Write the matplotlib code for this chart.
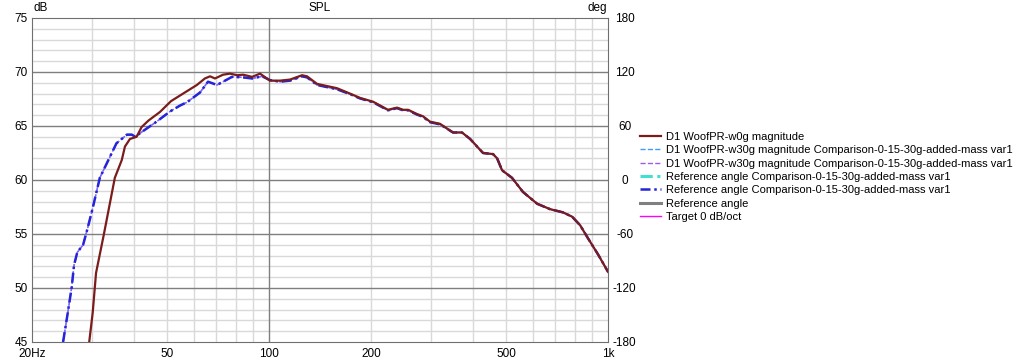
"""
SPL 频响对比图 (REW 风格)
左轴 dB, 右轴 deg, x 轴对数频率 20Hz - 1k
"""

import matplotlib
matplotlib.use('Agg')  # 非交互式后端
import matplotlib.pyplot as plt
from matplotlib.ticker import FixedLocator, NullFormatter


plt.rcParams['font.family'] = ['Liberation Sans', 'DejaVu Sans']
plt.rcParams['axes.unicode_minus'] = False

# D1 WoofPR-w0g magnitude (棕色实线)
freq_w0g = [29.5, 30.2, 30.9, 32.6, 35.1, 36.8, 37.6, 38.9, 40.7, 42.1, 44.1, 47.7,
            51.4, 55.8, 61.3, 64.7, 67.0, 69.3, 73.2, 76.8, 80.5, 83.9, 89.2, 94.1,
            100.7, 107.8, 115.4, 125.2, 129.5, 138.6, 148.3, 158.7, 173.4, 185.6,
            202.8, 224.4, 238.6, 248.6, 257.3, 273.5, 284.6, 298.6, 319.6, 349, 371,
            392, 428, 458, 471, 487, 521, 561, 618, 675, 737, 784, 828, 873, 935, 1000]
spl_w0g = [45.0, 47.7, 51.4, 55.0, 60.2, 61.85, 63.1, 63.8, 64.0, 64.9, 65.5, 66.3,
           67.3, 68.0, 68.8, 69.4, 69.6, 69.4, 69.75, 69.85, 69.7, 69.75, 69.55, 69.85,
           69.2, 69.2, 69.3, 69.7, 69.6, 68.9, 68.7, 68.5, 68.0, 67.6,
           67.25, 66.5, 66.7, 66.5, 66.5, 66.1, 65.9, 65.4, 65.2, 64.4, 64.4,
           63.8, 62.5, 62.4, 62.0, 60.9, 60.2, 58.9, 57.8, 57.3, 57.0, 56.6, 55.8, 54.6, 53.1, 51.5]

# D1 WoofPR-w30g magnitude / Comparison var1 (蓝色点划线)
freq_w30g = [24.7, 25.5, 26.2, 26.6, 27.2, 28.3, 29.1, 30.1, 31.7, 33.6, 35.5, 38.1,
             39.4, 40.3, 42.6, 46.6, 51.1, 54.7, 57.3, 62.6, 66.1, 70.3, 73.2, 77.8,
             83.9, 89.2, 95.4, 100.7, 107.8, 115.4, 125.2, 129.5, 138.6, 148.3, 158.7,
             173.4, 185.6, 202.8, 224.4, 238.6, 248.6, 257.3, 273.5, 284.6, 298.6,
             319.6, 349, 371, 392, 428, 458, 471, 487, 521, 561, 618, 675, 737, 784,
             828, 873, 935, 1000]
spl_w30g = [45.0, 47.7, 50.1, 52.1, 53.3, 54.0, 55.4, 57.2, 60.2, 61.85, 63.4, 64.2,
            64.2, 64.0, 64.55, 65.4, 66.35, 66.9, 67.2, 68.1, 69.1, 68.8, 69.1, 69.55,
            69.5, 69.4, 69.6, 69.25, 69.1, 69.2, 69.6, 69.5, 68.8, 68.6, 68.4,
            67.95, 67.55, 67.2, 66.45, 66.65, 66.45, 66.45, 66.05, 65.85, 65.35,
            65.15, 64.4, 64.4, 63.8, 62.5, 62.4, 62.0, 60.9, 60.2, 58.9, 57.8, 57.3, 57.0, 56.6,
            55.8, 54.6, 53.1, 51.5]

legend_labels = [
    'D1 WoofPR-w0g magnitude',
    'D1 WoofPR-w30g magnitude Comparison-0-15-30g-added-mass var1',
    'D1 WoofPR-w30g magnitude Comparison-0-15-30g-added-mass var1',
    'Reference angle Comparison-0-15-30g-added-mass var1',
    'Reference angle Comparison-0-15-30g-added-mass var1',
    'Reference angle',
    'Target 0 dB/oct',
]

x_ticks = [20, 50, 100, 200, 500, 1000]
x_tick_labels = ['20Hz', '50', '100', '200', '500', '1k']
x_minor = [30, 40, 50, 60, 70, 80, 90, 200, 300, 400, 500, 600, 700, 800, 900]
db_major = [45, 50, 55, 60, 65, 70, 75]
deg_ticks = [-180, -120, -60, 0, 60, 120, 180]

fig = plt.figure(figsize=(10.22, 3.6), dpi=100)
ax = fig.add_axes([32 / 1022, 18 / 360, 576 / 1022, 324 / 360])

ax.set_xscale('log')
ax.set_xlim(20, 1000)
ax.set_ylim(45, 75)

# 网格: 浅灰细线 + 深灰主线
light = '#d9d9d9'
dark = '#7f7f7f'
for f in x_minor:
    ax.axvline(f, color=light, linewidth=1, zorder=0)
ax.axvline(100, color=dark, linewidth=1, zorder=0.5)
for v in range(46, 75):
    if v % 5 != 0:
        ax.axhline(v, color=light, linewidth=1, zorder=0)
for v in db_major[1:-1]:
    ax.axhline(v, color=dark, linewidth=1, zorder=0.5)

# 曲线
dashdot = (0, (4, 1.5, 1, 1.5))
ax.plot(freq_w30g, spl_w30g, color='#3c9cff', linewidth=1, linestyle='--', label=legend_labels[1], zorder=2)
ax.plot(freq_w30g, spl_w30g, color='#9a5cf0', linewidth=1, linestyle='--', label=legend_labels[2], zorder=2)
ax.plot([], [], color='#40e0d0', linewidth=2.2, linestyle=dashdot, label=legend_labels[3])
ax.plot(freq_w30g, spl_w30g, color='#2424d8', linewidth=1.8, linestyle=dashdot,
        label=legend_labels[4], zorder=3)
ax.plot([], [], color='#808080', linewidth=2.2, label=legend_labels[5])
ax.plot([], [], color='#ff00ff', linewidth=1, label=legend_labels[6])
ax.plot(freq_w0g, spl_w0g, color='#7a1c1c', linewidth=1.6, label=legend_labels[0], zorder=4)

# 坐标轴
ax.xaxis.set_major_locator(FixedLocator(x_ticks))
ax.xaxis.set_minor_formatter(NullFormatter())
ax.set_xticklabels(x_tick_labels)
ax.set_yticks(db_major)
ax.tick_params(axis='both', which='both', length=0, labelsize=8.5, colors='#000000')
ax.tick_params(axis='x', pad=4)
ax.tick_params(axis='y', pad=3)
for s in ax.spines.values():
    s.set_color('#6f6f6f')

ax2 = ax.twinx()
ax2.set_ylim(-180, 180)
ax2.set_yticks(deg_ticks)
ax2.tick_params(axis='y', length=0, labelsize=8.5, pad=12)
for lab in ax2.get_yticklabels():
    lab.set_horizontalalignment('center')
for s in ax2.spines.values():
    s.set_visible(False)

# 标题和单位
ax.text(0.5, 1.012, 'SPL', transform=ax.transAxes, ha='center', va='bottom', fontsize=8.5)
ax.text(0.002, 1.012, 'dB', transform=ax.transAxes, ha='left', va='bottom', fontsize=8.5)
ax.text(0.998, 1.012, 'deg', transform=ax.transAxes, ha='right', va='bottom', fontsize=8.5)

# 图例 (按原顺序)
handles, labels = ax.get_legend_handles_labels()
order = [labels.index(legend_labels[0]), 0, 1, 2, 3, 4, 5]
fig.legend([handles[i] for i in order], [labels[i] for i in order],
           loc='upper left', bbox_to_anchor=(640 / 1022, 1 - 132 / 360),
           frameon=False, fontsize=8, handlelength=1.9, handletextpad=0.45,
           labelspacing=0.3, borderaxespad=0, borderpad=0)

plt.savefig('out.png', dpi=100)
plt.close()
